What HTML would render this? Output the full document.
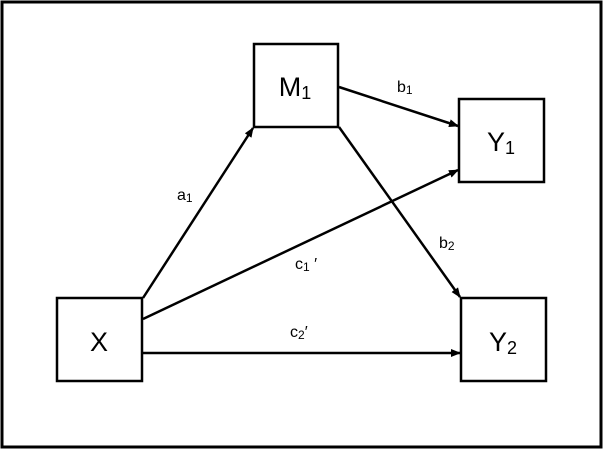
<!DOCTYPE html>
<html><head><style>body{margin:0;background:#fff}svg{display:block}</style></head><body>
<svg width="604" height="450" viewBox="0 0 604 450" xmlns="http://www.w3.org/2000/svg" font-family="Liberation Sans, sans-serif">
<defs><marker id="a" markerWidth="10" markerHeight="8" refX="9" refY="4" orient="auto" markerUnits="userSpaceOnUse"><path d="M0,0 L10,4 L0,8 z" fill="#000"/></marker></defs>
<rect x="2" y="2" width="599" height="445" fill="#fff" stroke="#000" stroke-width="3"/>
<g fill="#fff" stroke="#000" stroke-width="2.5">
<rect x="254" y="44" width="84" height="83"/>
<rect x="459" y="99" width="85" height="83"/>
<rect x="57" y="298" width="85" height="83"/>
<rect x="461" y="298" width="85" height="83"/>
</g>
<g stroke="#000" stroke-width="2.5" marker-end="url(#a)">
<line x1="143" y1="298" x2="253" y2="128"/>
<line x1="143" y1="319" x2="458" y2="170"/>
<line x1="339" y1="87" x2="458" y2="126"/>
<line x1="339" y1="127" x2="460" y2="297"/>
<line x1="143" y1="353" x2="460" y2="353"/>
</g>
<g font-size="27" text-anchor="middle">
<text x="295" y="96">M<tspan font-size="18" dy="3">1</tspan></text>
<text x="501" y="151">Y<tspan font-size="18" dy="3">1</tspan></text>
<text x="99" y="351">X</text>
<text x="503" y="351">Y<tspan font-size="18" dy="3">2</tspan></text>
</g>
<g font-size="16">
<text x="177" y="200">a<tspan font-size="12" dy="2">1</tspan></text>
<text x="397" y="92">b<tspan font-size="12" dy="2">1</tspan></text>
<text x="439" y="248">b<tspan font-size="12" dy="2">2</tspan></text>
<text x="295" y="269">c<tspan font-size="12" dy="2">1</tspan><tspan dy="-2"> ′</tspan></text>
<text x="290" y="337">c<tspan font-size="12" dy="2">2</tspan><tspan dy="-2">′</tspan></text>
</g>
</svg>
</body></html>
